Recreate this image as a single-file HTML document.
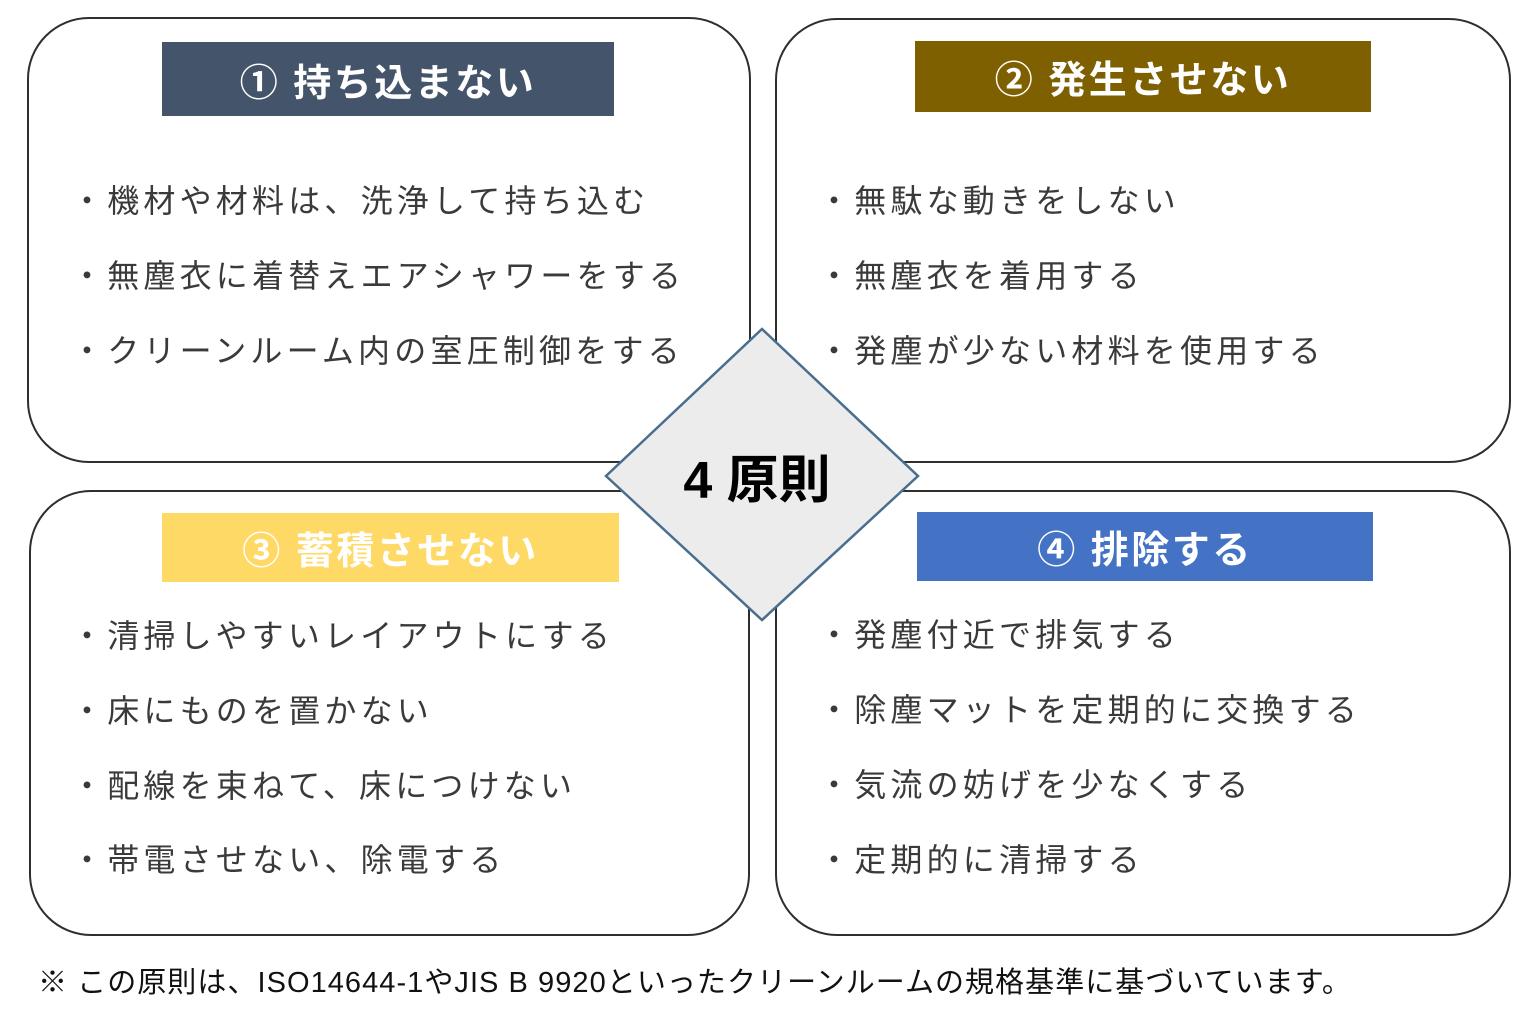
<!DOCTYPE html>
<html><head><meta charset="utf-8"><style>
body{margin:0;width:1536px;height:1012px;background:#fff;position:relative;overflow:hidden;font-family:"Liberation Sans","Noto Sans CJK JP",sans-serif;}
.box{position:absolute;border:2.5px solid #2e2e2e;border-radius:62px;box-sizing:border-box;background:#fff;}
.hd{position:absolute;color:#fff;font-weight:bold;font-size:38px;letter-spacing:2.5px;display:flex;align-items:center;justify-content:center;white-space:nowrap;}
.t{position:absolute;font-size:32px;letter-spacing:4.2px;color:#3a3a3a;line-height:40px;white-space:nowrap;}
</style></head><body>
<div class="box" style="left:27px;top:17px;width:724px;height:446px"></div>
<div class="box" style="left:775px;top:18px;width:736px;height:445px"></div>
<div class="box" style="left:29px;top:490px;width:721px;height:446px"></div>
<div class="box" style="left:775px;top:490px;width:736px;height:446px"></div>

<div class="hd" style="left:162px;top:42px;width:452px;height:74px;background:#44546a">① 持ち込まない</div>
<div class="hd" style="left:915px;top:41px;width:456px;height:71px;background:#7f6000">② 発生させない</div>
<div class="hd" style="left:162px;top:513px;width:457px;height:69px;background:#ffd966">③ 蓄積させない</div>
<div class="hd" style="left:917px;top:512px;width:456px;height:69px;background:#4472c4">④ 排除する</div>

<div class="t" style="left:71px;top:181px">・機材や材料は、洗浄して持ち込む</div>
<div class="t" style="left:71px;top:256px">・無塵衣に着替えエアシャワーをする</div>
<div class="t" style="left:71px;top:331px">・クリーンルーム内の室圧制御をする</div>

<div class="t" style="left:818px;top:181px">・無駄な動きをしない</div>
<div class="t" style="left:818px;top:256px">・無塵衣を着用する</div>
<div class="t" style="left:818px;top:331px">・発塵が少ない材料を使用する</div>

<div class="t" style="left:71px;top:616px">・清掃しやすいレイアウトにする</div>
<div class="t" style="left:71px;top:691px">・床にものを置かない</div>
<div class="t" style="left:71px;top:766px">・配線を束ねて、床につけない</div>
<div class="t" style="left:71px;top:840px">・帯電させない、除電する</div>

<div class="t" style="left:818px;top:615px">・発塵付近で排気する</div>
<div class="t" style="left:818px;top:690px">・除塵マットを定期的に交換する</div>
<div class="t" style="left:818px;top:765px">・気流の妨げを少なくする</div>
<div class="t" style="left:818px;top:840px">・定期的に清掃する</div>

<svg style="position:absolute;left:0;top:0" width="1536" height="1012">
<polygon points="762,329 918,476 762,620 606,476" fill="#ececec" stroke="#4a6e8e" stroke-width="2.5"/>
<text x="757" y="498" text-anchor="middle" font-family="Liberation Sans,Noto Sans CJK JP,sans-serif" font-weight="bold" font-size="52" fill="#000">4 原則</text>
</svg>

<div style="position:absolute;left:38px;top:963px;font-size:29px;letter-spacing:1.05px;color:#111;white-space:nowrap;line-height:40px">※ この原則は、ISO14644-1やJIS B 9920といったクリーンルームの規格基準に基づいています。</div>
</body></html>
